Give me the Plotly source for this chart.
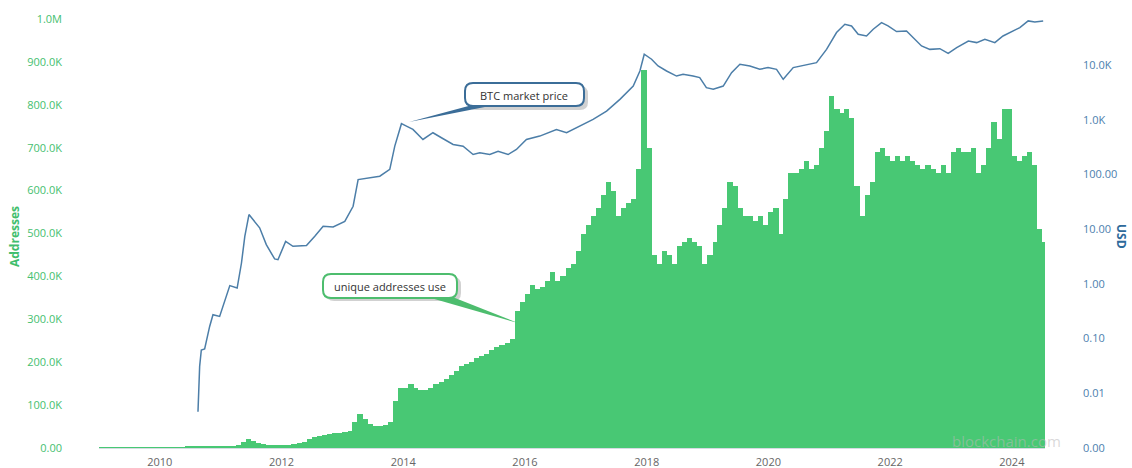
import plotly.graph_objects as go
import pandas as pd

# ---------------- data ----------------
# Unique addresses used, monthly, in thousands
addr_2009 = [0.3, 0.4, 0.5, 0.5, 0.6, 0.6, 0.7, 0.8, 0.8, 0.9, 1.0, 1.2]
addr_2010 = [1.5, 1.7, 1.8, 2.0, 2.2, 2.6, 4.5, 3.0, 2.6, 3.0, 3.5, 4.2]
addr_2011 = [3, 4, 5, 8, 14, 21, 16, 12, 10, 8, 8, 8]
addr_2012 = [8, 8, 9, 11, 14, 20, 26, 28, 30, 32, 34, 36]
addr_2013 = [38, 40, 60, 80, 68, 56, 52, 52, 54, 60, 110, 140]
addr_2014 = [140, 150, 140, 135, 135, 140, 150, 155, 160, 170, 180, 190]
addr_2015 = [195, 200, 210, 215, 220, 228, 235, 240, 245, 255, 320, 340]
addr_2016 = [360, 380, 370, 375, 390, 410, 390, 400, 420, 430, 460, 500]
addr_2017 = [520, 540, 560, 590, 620, 600, 540, 560, 570, 580, 650, 880]
addr_2018 = [700, 450, 430, 460, 450, 430, 470, 480, 490, 480, 470, 430]
addr_2019 = [450, 480, 520, 560, 620, 610, 560, 540, 540, 530, 540, 520]
addr_2020 = [550, 560, 500, 580, 640, 640, 650, 670, 650, 660, 700, 740]
addr_2021 = [820, 790, 780, 790, 770, 610, 540, 590, 620, 690, 700, 680]
addr_2022 = [670, 680, 670, 680, 670, 660, 650, 660, 650, 640, 660, 640]
addr_2023 = [690, 700, 690, 690, 700, 640, 660, 700, 760, 720, 790, 790]
addr_2024 = [680, 670, 680, 690, 660, 510, 480]

# BTC market price (USD), traced points
price_dates = [
    "2010-08-18", "2010-08-28", "2010-09-07", "2010-09-27", "2010-10-27", "2010-11-16",
    "2010-12-26", "2011-02-05", "2011-02-25", "2011-04-10", "2011-05-06", "2011-05-26",
    "2011-06-20", "2011-07-14", "2011-08-23", "2011-10-02", "2011-11-21", "2011-12-11",
    "2012-01-26", "2012-03-10", "2012-05-30", "2012-07-19", "2012-09-07", "2012-11-06",
    "2013-01-15", "2013-03-06", "2013-04-05", "2013-08-13", "2013-10-12", "2013-11-11",
    "2013-12-21", "2014-01-20", "2014-02-28", "2014-04-29", "2014-06-28", "2014-08-18",
    "2014-10-27", "2014-12-26", "2015-02-24", "2015-04-05", "2015-06-04", "2015-07-24",
    "2015-09-22", "2015-11-11", "2016-01-10", "2016-03-30", "2016-07-08", "2016-09-07",
    "2016-11-25", "2017-02-13", "2017-05-05", "2017-07-24", "2017-10-12", "2017-11-21",
    "2017-12-17", "2018-01-30", "2018-03-10", "2018-04-30", "2018-06-29", "2018-08-07",
    "2018-10-06", "2018-11-15", "2018-12-25", "2019-02-04", "2019-04-05", "2019-05-25",
    "2019-07-14", "2019-09-12", "2019-11-10", "2019-12-30", "2020-02-19", "2020-03-30",
    "2020-05-29", "2020-08-17", "2020-10-16", "2020-12-15", "2021-02-13", "2021-04-04",
    "2021-05-14", "2021-06-23", "2021-08-12", "2021-09-21", "2021-11-10", "2021-12-19",
    "2022-02-08", "2022-04-09", "2022-05-19", "2022-07-08", "2022-08-27", "2022-10-26",
    "2022-12-15", "2023-02-04", "2023-04-15", "2023-06-04", "2023-07-23", "2023-09-21",
    "2023-11-09", "2024-01-09", "2024-02-18", "2024-04-08", "2024-05-18", "2024-07-07",
]
price_usd = [
    0.0046, 0.031, 0.062, 0.065, 0.167, 0.273,
    0.254, 0.59, 0.93, 0.84, 2.41, 7.41,
    18.5, 15.0, 10.6, 5.22, 2.86, 2.77,
    6.0, 4.86, 5.01, 7.41, 11.3, 11.0,
    13.9, 26.3, 80.9, 93, 124, 330,
    850, 767, 667, 437, 580, 470,
    354, 330, 232, 250, 232, 267,
    232, 287, 437, 504, 667, 580,
    767, 1016, 1443, 2364, 4140, 7800,
    15800, 12800, 9640, 7800, 6310, 6790,
    6310, 5900, 3870, 3610, 4140, 7290,
    10350, 9640, 8380, 9000, 8380, 5500,
    9000, 10000, 11100, 19400, 39400, 55800,
    52000, 36600, 34100, 45300, 60000, 52000,
    41000, 42100, 31900, 22400, 19400, 20000,
    16400, 20900, 27600, 25800, 29700, 25800,
    34100, 42100, 48600, 64300, 61700, 64300,
]

x_tick_years = ["2010", "2012", "2014", "2016", "2018", "2020", "2022", "2024"]
left_tick_vals = [0, 100e3, 200e3, 300e3, 400e3, 500e3, 600e3, 700e3, 800e3, 900e3, 1e6]
left_tick_text = ["0.00", "100.0K", "200.0K", "300.0K", "400.0K", "500.0K",
                  "600.0K", "700.0K", "800.0K", "900.0K", "1.0M"]
right_tick_vals = [0.001, 0.01, 0.1, 1, 10, 100, 1000, 10000]
right_tick_text = ["0.00", "0.01", "0.10", "1.00", "10.00", "100.00", "1.0K", "10.0K"]

# ---------------- assemble ----------------
addr_k = (addr_2009 + addr_2010 + addr_2011 + addr_2012 + addr_2013 + addr_2014 +
          addr_2015 + addr_2016 + addr_2017 + addr_2018 + addr_2019 + addr_2020 +
          addr_2021 + addr_2022 + addr_2023 + addr_2024)
addresses = [v * 1000 for v in addr_k]
month_dates = pd.date_range("2009-01-01", periods=len(addresses), freq="MS") + pd.Timedelta(days=15)
month_dates = [d.strftime("%Y-%m-%d") for d in month_dates]

W, H = 1132, 468
L, R, T, B = 99, 1045, 19, 448  # plot area in pixels


def px(x):
    return (x - L) / (R - L)


def py(y):
    return (B - y) / (B - T)


def rounded(x0, y0, x1, y1, r):
    rx = r / (R - L)
    ry = r / (B - T)
    X0, X1 = px(x0), px(x1)
    Y0, Y1 = py(y0), py(y1)  # Y0 top (larger), Y1 bottom
    return (f"M {X0+rx},{Y0} L {X1-rx},{Y0} Q {X1},{Y0} {X1},{Y0-ry} "
            f"L {X1},{Y1+ry} Q {X1},{Y1} {X1-rx},{Y1} L {X0+rx},{Y1} "
            f"Q {X0},{Y1} {X0},{Y1+ry} L {X0},{Y0-ry} Q {X0},{Y0} {X0+rx},{Y0} Z")


def tri(a, b, c):
    return (f"M {px(a[0])},{py(a[1])} L {px(b[0])},{py(b[1])} "
            f"L {px(c[0])},{py(c[1])} Z")


fig = go.Figure()
fig.add_trace(go.Bar(
    x=month_dates, y=addresses, yaxis="y",
    marker=dict(color="#48C874", line=dict(width=0)),
    width=[31 * 86400000] * len(addresses),
    hoverinfo="skip",
))
fig.add_trace(go.Scatter(
    x=price_dates, y=price_usd, yaxis="y2", mode="lines",
    line=dict(color="#4C7EA8", width=1.5),
    hoverinfo="skip",
))

blue_box = "#3B6D98"
green_box = "#4DBD6E"
shapes = [
    # BTC market price callout
    dict(type="path", xref="paper", yref="paper", layer="above",
         path=rounded(468, 86, 588, 110, 8), fillcolor="rgba(0,0,0,0.18)", line=dict(width=0)),
    dict(type="path", xref="paper", yref="paper", layer="above",
         path=tri((476, 104), (500, 104), (409, 122)), fillcolor=blue_box, line=dict(width=0)),
    dict(type="path", xref="paper", yref="paper", layer="above",
         path=rounded(465, 83, 584, 106, 8), fillcolor="white",
         line=dict(color=blue_box, width=2)),
    # unique addresses callout
    dict(type="path", xref="paper", yref="paper", layer="above",
         path=rounded(326, 277, 461, 301, 8), fillcolor="rgba(0,0,0,0.18)", line=dict(width=0)),
    dict(type="path", xref="paper", yref="paper", layer="above",
         path=tri((424, 296), (450, 296), (518, 323)), fillcolor=green_box, line=dict(width=0)),
    dict(type="path", xref="paper", yref="paper", layer="above",
         path=rounded(323, 274, 457, 298, 8), fillcolor="white",
         line=dict(color=green_box, width=2)),
]

ann_common = dict(xref="paper", yref="paper", showarrow=False,
                  xanchor="center", yanchor="middle")
annotations = [
    dict(text="BTC market price", x=px(524), y=py(95),
         font=dict(size=11, color="#333333", family="Open Sans"), **ann_common),
    dict(text="unique addresses use", x=px(390), y=py(286),
         font=dict(size=11, color="#333333", family="Open Sans"), **ann_common),
    dict(text="<b>Addresses</b>", x=px(14), y=py(237), textangle=-90,
         font=dict(size=12, color="#3FBE6C", family="Open Sans"), **ann_common),
    dict(text="<b>USD</b>", x=px(1122), y=py(236), textangle=90,
         font=dict(size=12, color="#2E6A9B", family="Open Sans"), **ann_common),
    dict(text="blockchain.com", x=px(1006), y=py(441),
         font=dict(size=15, color="rgba(185,185,185,0.55)", family="Open Sans"), **ann_common),
]

fig.update_layout(
    template="none",
    width=W, height=H,
    margin=dict(l=L, r=W - R, t=T, b=H - B, pad=0),
    paper_bgcolor="white", plot_bgcolor="white",
    showlegend=False, bargap=0,
    font=dict(family="Open Sans", size=11),
    xaxis=dict(
        type="date", range=["2009-01-01", "2024-07-18"],
        tickvals=[f"{y}-01-01" for y in x_tick_years], ticktext=x_tick_years,
        tickfont=dict(size=11, color="#666666"), showgrid=False, zeroline=False,
        showline=True, linecolor="#d6dbe3", linewidth=1, ticks="",
        automargin=False, ticklabelstandoff=4,
    ),
    yaxis=dict(
        range=[0, 1e6], tickvals=left_tick_vals, ticktext=left_tick_text,
        tickfont=dict(size=11, color="#45C06F"), showgrid=False, zeroline=False,
        showline=False, ticks="", automargin=False, ticklabelstandoff=36,
    ),
    yaxis2=dict(
        type="log", range=[-3, 4.843], overlaying="y", side="right",
        tickvals=right_tick_vals, ticktext=right_tick_text,
        tickfont=dict(size=11, color="#4C80AE"), showgrid=False, zeroline=False,
        showline=False, ticks="", automargin=False, ticklabelstandoff=37,
    ),
    shapes=shapes,
    annotations=annotations,
)

fig.write_html("out.html")
